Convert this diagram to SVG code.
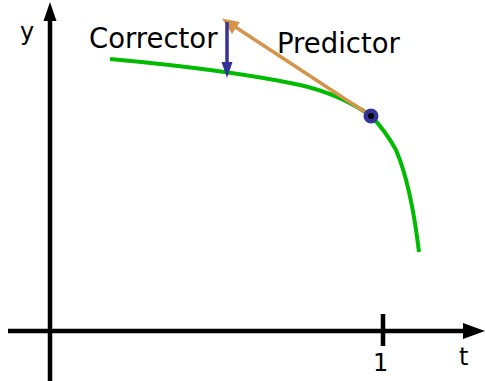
<svg xmlns="http://www.w3.org/2000/svg" width="485" height="381" viewBox="0 0 485 381">
<defs>
<style>
text{font-family:"DejaVu Sans",sans-serif;fill:#000}
.axis{stroke:#000;stroke-width:4.5;fill:none}
.lbl{font-size:24px}
.big{font-size:27.5px}
</style>
</defs>
<rect width="485" height="381" fill="#fff"/>
<g id="axes">
<line class="axis" x1="50" y1="381" x2="50" y2="18"/>
<polygon points="50,2 43.5,21 56.5,21" fill="#000"/>
<line class="axis" x1="8" y1="331" x2="466" y2="331"/>
<polygon points="485,331 463,323 463,339" fill="#000"/>
<line class="axis" x1="383" y1="314" x2="383" y2="346"/>
<text class="lbl" x="20" y="40">y</text>
<text class="lbl" x="373" y="371">1</text>
<text class="lbl" x="459" y="365">t</text>
</g>
<g id="curve">
<path d="M110,59 Q230,70 300,85 Q340,94 371,116 Q385,130 396,150 Q411,185 419,252" fill="none" stroke="#00bb00" stroke-width="4"/>
</g>
<g id="connectors">
<line x1="371" y1="116" x2="230" y2="23.5" stroke="#d4944c" stroke-width="3.5"/>
<polygon points="222,18.5 240,22 232,34" fill="#d4944c"/>
<line x1="227" y1="22" x2="227" y2="64" stroke="#333399" stroke-width="3.5"/>
<polygon points="227,78 221.5,62 232.5,62" fill="#333399"/>
</g>
<g id="point">
<circle cx="371" cy="116" r="7.5" fill="#333399"/>
<circle cx="371" cy="116" r="3" fill="#000"/>
</g>
<g id="labels">
<text class="big" x="89" y="48">Corrector</text>
<text class="big" x="277" y="53">Predictor</text>
</g>
</svg>
